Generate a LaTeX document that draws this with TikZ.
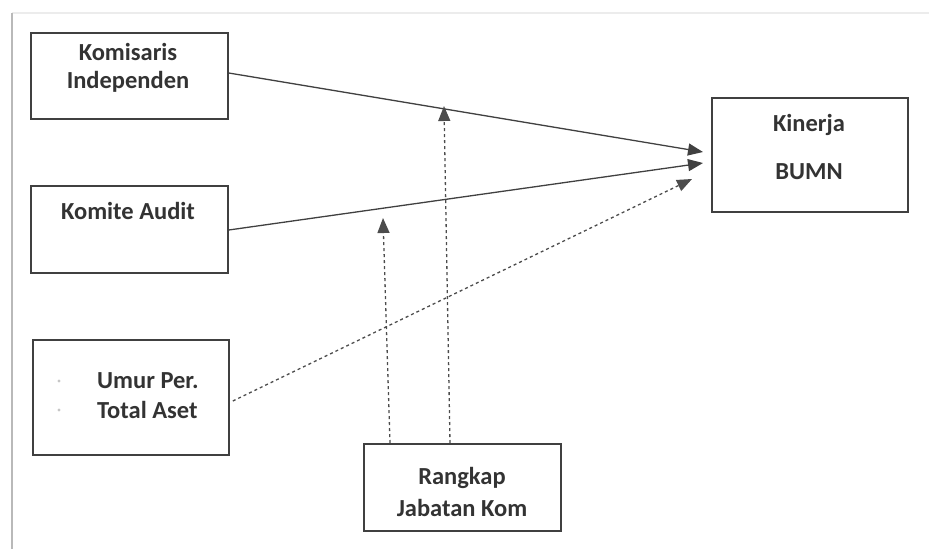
\documentclass[tikz,border=0pt]{standalone}
\usepackage{fontspec}
\setmainfont{Carlito}
\usetikzlibrary{arrows.meta,calc}

\tikzset{
  varbox/.style={draw=black!75, line width=1.8pt, rectangle, inner sep=0pt,
    minimum width=#1},
  varbox/.default=197pt,
  lbl/.style={font=\fontsize{24.5}{28}\selectfont\bfseries, text=black!80, inner sep=0pt},
  effect/.style={draw=black!75, line width=1.3pt, -{Triangle[length=15pt,width=12pt]}},
  moderate/.style={draw=black!70, line width=1.3pt, dash pattern=on 3pt off 3pt,
    -{Triangle[length=15pt,width=12pt]}}
}

\begin{document}
\begin{tikzpicture}[x=1pt, y=-1pt]
  \useasboundingbox (0,0) rectangle (929,549);
  % faint page frame
  \draw[gray!15, line width=1.5pt] (12,13) -- (929,13);
  \draw[gray!55, line width=1.5pt] (12,13) -- (12,549);

  % variable boxes
  \node[varbox, minimum height=86pt, anchor=north west] (komisaris) at (30,32) {};
  \node[varbox, minimum height=87pt, anchor=north west] (komite) at (30,185) {};
  \node[varbox=196pt, minimum height=115pt, anchor=north west] (kontrol) at (32,339) {};
  \node[varbox=196pt, minimum height=114pt, anchor=north west] (kinerja) at (711,97) {};
  \node[varbox, minimum height=87pt, anchor=north west] (rangkap) at (363,443) {};

  % box texts
  \node[lbl] (t-kom1) at (128,52) {Komisaris};
  \node[lbl] (t-kom2) at (128,82) {Independen};
  \node[lbl] (t-audit) at (128,211) {Komite Audit};
  \node[lbl, anchor=west] (t-umur) at (97,381) {Umur Per.};
  \node[lbl, anchor=west] (t-aset) at (97,410) {Total Aset};
  \node[circle, fill=gray!45, inner sep=1.2pt] (b-umur) at (59,381) {};
  \node[circle, fill=gray!45, inner sep=1.2pt] (b-aset) at (59,410) {};
  \node[lbl] (t-kin1) at (809,125) {Kinerja};
  \node[lbl] (t-kin2) at (809,172) {BUMN};
  \node[lbl] (t-rang1) at (462,478) {Rangkap};
  \node[lbl] (t-rang2) at (462,508) {Jabatan Kom};

  % arrow ends in front of Kinerja BUMN
  \coordinate (e1) at (703,152);
  \coordinate (e2) at (703,163);
  \coordinate (e3) at (692,179);
  % moderating arrow ends
  \coordinate (m1) at (444,106);
  \coordinate (m2) at (383,218);

  % direct effects
  \draw[effect] ($(komisaris.north east)+(0,41)$) -- (e1);
  \draw[effect] ($(komite.north east)+(0,45)$) -- (e2);
  \draw[moderate] ($(kontrol.north east)+(3,62)$) -- (e3);

  % moderation by Rangkap Jabatan
  \draw[moderate] ($(rangkap.north west)+(87,0)$) -- (m1);
  \draw[moderate] ($(rangkap.north west)+(27,0)$) -- (m2);
\end{tikzpicture}
\end{document}
